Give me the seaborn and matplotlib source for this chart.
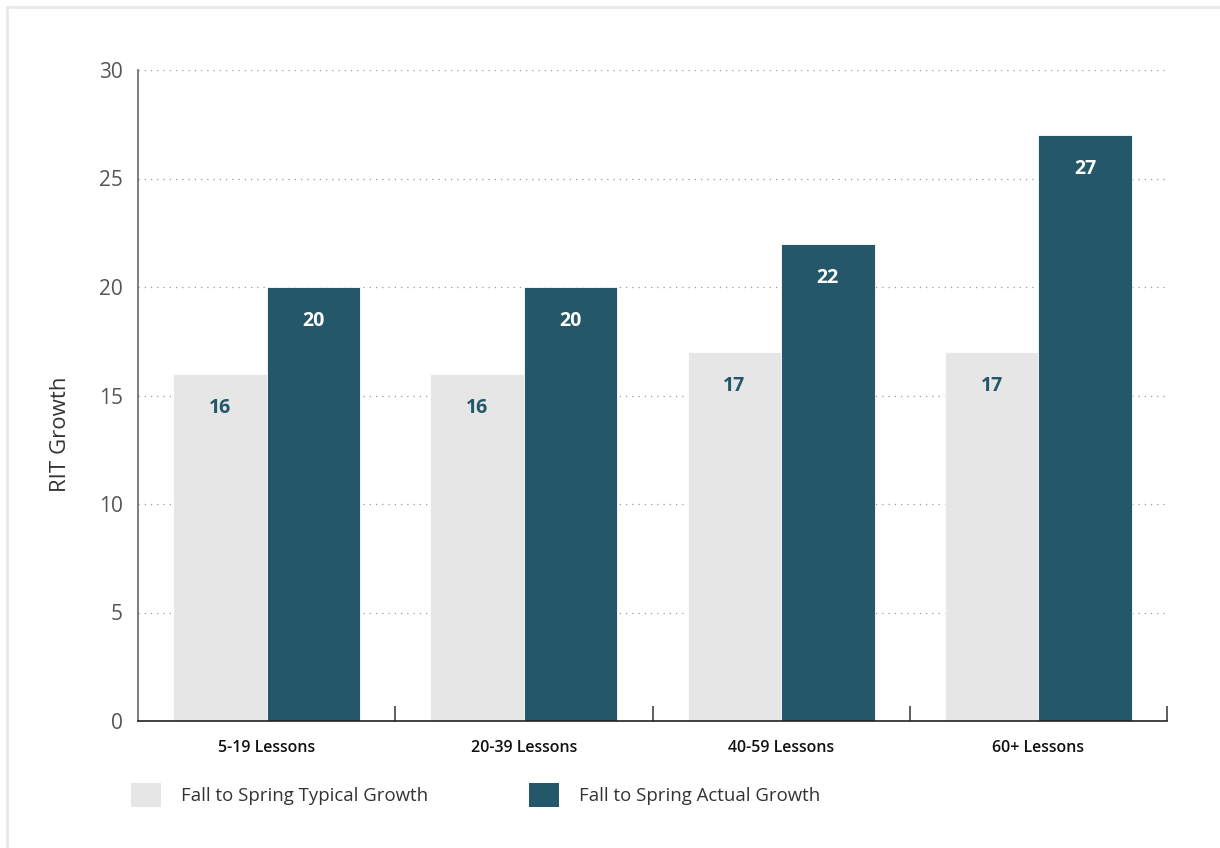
import pandas as pd
import matplotlib.pyplot as plt
import seaborn as sns
from matplotlib.lines import Line2D
from matplotlib.patches import Patch

categories = ["5-19 Lessons", "20-39 Lessons", "40-59 Lessons", "60+ Lessons"]
series_names = ["Fall to Spring Typical Growth", "Fall to Spring Actual Growth"]
typical_growth = [16, 16, 17, 17]
actual_growth = [20, 20, 22, 27]
y_ticks = [0, 5, 10, 15, 20, 25, 30]

LIGHT = "#e6e6e6"
DARK = "#235769"

df = pd.DataFrame({
    "category": categories * 2,
    "series": [series_names[0]] * 4 + [series_names[1]] * 4,
    "value": typical_growth + actual_growth,
})

sns.set_style("white")
plt.rcParams["font.family"] = ["Open Sans", "DejaVu Sans"]

W, H = 1220, 848
fig = plt.figure(figsize=(W / 100, H / 100), dpi=100)
ax = fig.add_axes([138 / W, 1 - 721 / H, (1167 - 138) / W, (721 - 70) / H])

sns.barplot(data=df, x="category", y="value", hue="series", order=categories,
            hue_order=series_names, palette=[LIGHT, DARK], width=0.726,
            saturation=1, ax=ax, legend=False, errorbar=None,
            edgecolor="white", linewidth=0.6)

ax.set_xlim(-0.5, 3.5)
ax.set_ylim(0, 30)
ax.set_yticks(y_ticks)
ax.yaxis.grid(True, linestyle=(0, (1, 4)), color="#999999", linewidth=0.9)
ax.set_axisbelow(True)

for side in ["top", "right"]:
    ax.spines[side].set_visible(False)
ax.spines["left"].set_color("#666666")
ax.spines["left"].set_linewidth(1.2)
ax.spines["bottom"].set_color("#222222")
ax.spines["bottom"].set_linewidth(1.2)

ax.tick_params(axis="y", length=0, pad=11, labelsize=15, labelcolor="#555555")
ax.tick_params(axis="x", length=0, pad=13.5, labelsize=11.5, labelcolor="#111111")
for lbl in ax.get_xticklabels():
    lbl.set_fontweight("semibold")

# separators between groups
ax.set_xticks([0.5, 1.5, 2.5, 3.5], minor=True)
ax.tick_params(axis="x", which="minor", bottom=True, direction="in",
               length=11, width=1.1, color="#333333")

ax.set_xlabel("")
ax.set_ylabel("RIT Growth", fontsize=16, color="#333333")
ax.yaxis.set_label_coords(-0.065, 0.44)

# value labels
for container, col in zip(ax.containers, [DARK, "white"]):
    for bar in container:
        h = bar.get_height()
        ax.annotate(f"{h:.0f}", (bar.get_x() + bar.get_width() / 2, h),
                    xytext=(0, -34), textcoords="offset pixels",
                    ha="center", va="center", fontsize=14,
                    fontweight="bold", color=col)

# legend
handles = [Patch(facecolor=LIGHT, edgecolor="none"),
           Patch(facecolor=DARK, edgecolor="none")]
fig.legend(handles, series_names, loc="upper left",
           bbox_to_anchor=(131 / W, 1 - 783 / H), ncol=2, frameon=False,
           borderpad=0, borderaxespad=0,
           fontsize=13.4, handlelength=1.62, handleheight=1.62,
           handletextpad=1.08, columnspacing=5.4, labelcolor="#333333")

# light frame lines at top and left
fig.add_artist(Line2D([7 / W, 1], [1 - 7 / H, 1 - 7 / H], color="#e6e9e9",
                      linewidth=2, transform=fig.transFigure))
fig.add_artist(Line2D([7 / W, 7 / W], [0, 1 - 7 / H], color="#e6e9e9",
                      linewidth=2, transform=fig.transFigure))

fig.savefig("out.png", dpi=100, facecolor="white")
